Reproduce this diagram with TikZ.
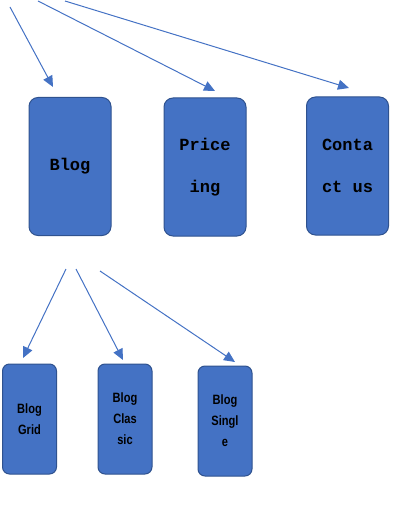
\documentclass[tikz,border=0pt]{standalone}
\usepackage{fontspec}
\usetikzlibrary{arrows.meta}
\newfontfamily\menufont{Liberation Mono}
\newfontfamily\subfont[FakeStretch=0.82]{Liberation Sans}
\definecolor{boxblue}{HTML}{4472C4}
\definecolor{boxedge}{HTML}{2F528F}
\begin{document}
\begin{tikzpicture}[x=1pt, y=-1pt, >={Triangle[length=11pt,width=10pt]}]
        \tikzstyle{page}=[draw=boxedge, fill=boxblue, line width=1pt, rounded corners=9pt, minimum width=82pt, minimum height=138pt, inner sep=0pt, align=center, font=\menufont\bfseries\fontsize{17}{42}\selectfont]
        \tikzstyle{subpage}=[draw=boxedge, fill=boxblue, line width=1pt, rounded corners=7pt, minimum width=54pt, minimum height=110pt, inner sep=0pt, align=center, font=\subfont\bfseries\fontsize{13.5}{21}\selectfont]
        \tikzstyle{link}=[->, draw=boxblue, line width=1pt]

        \useasboundingbox (0,0) rectangle (411,508);

        \node[page](blog) at (70,166.5){Blog};
        \node[page](pricing) at (205,167){Price\\ing};
        \node[page](contact) at (347.5,166){Conta\\ct us};

        \node[subpage](grid) at (29.5,419){Blog\\Grid};
        \node[subpage](classic) at (125,419){Blog\\Clas\\sic};
        \node[subpage](single) at (225,421){Blog\\Singl\\e};

        \coordinate (fromA) at (10,7);
        \coordinate (fromB) at (38,1);
        \coordinate (fromC) at (65,1);
        \coordinate (toBlog) at (53,87);
        \coordinate (toPricing) at (215,91);
        \coordinate (toContact) at (349,88);

        \coordinate (fromGrid) at (66,269);
        \coordinate (fromClassic) at (76,269);
        \coordinate (fromSingle) at (100,271);
        \coordinate (toGrid) at (23,358);
        \coordinate (toClassic) at (123,360);
        \coordinate (toSingle) at (235,362);

        \draw[link] (fromA) -- (toBlog);
        \draw[link] (fromB) -- (toPricing);
        \draw[link] (fromC) -- (toContact);
        \draw[link] (fromGrid) -- (toGrid);
        \draw[link] (fromClassic) -- (toClassic);
        \draw[link] (fromSingle) -- (toSingle);

\end{tikzpicture}
\end{document}
